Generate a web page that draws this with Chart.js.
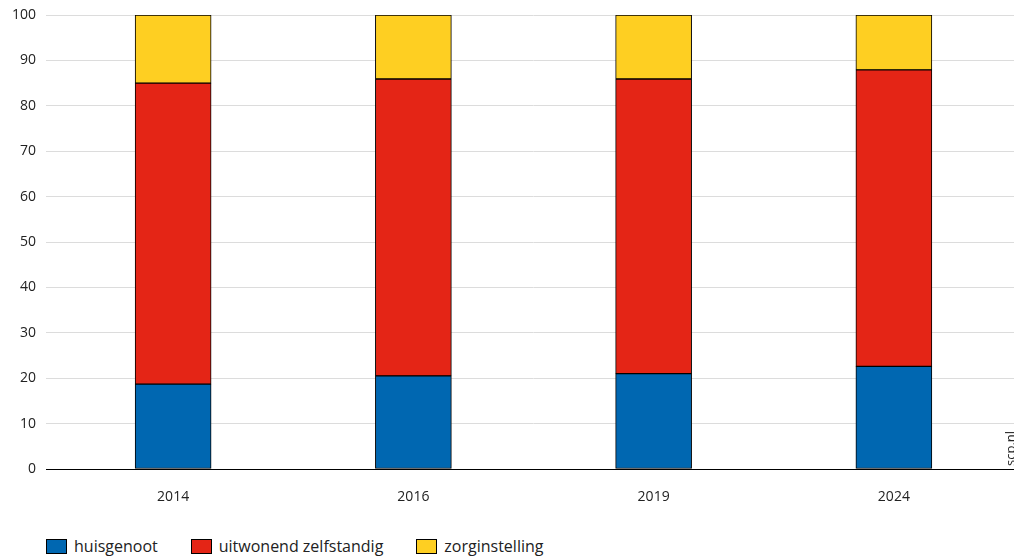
<!DOCTYPE html>
<html>
<head>
<meta charset="utf-8">
<script src="https://cdn.jsdelivr.net/npm/chart.js@4"></script>
<style>
    body { margin: 0; background: #fff; font-family: "Open Sans", sans-serif; }
    #wrap { position: relative; width: 1014px; height: 559px; }
    #box { position: absolute; left: 0; top: 0; width: 1014px; height: 520px; }
    #legend { position: absolute; left: 46px; top: 535px; display: flex; font-size: 16px; color: #222; }
    .item { display: flex; align-items: center; margin-right: 33px; }
    .swatch { width: 19px; height: 13px; border: 1px solid #000; margin-right: 7px; }
</style>
</head>
<body>
<div id="wrap">
    <div id="box"><canvas id="chart"></canvas></div>
    <div id="legend"></div>
</div>
<script>
const years = ['2014', '2016', '2019', '2024'];
const huisgenoot = [18.7, 20.5, 21.0, 22.6];
const uitwonend = [66.3, 65.4, 64.9, 65.3];
const zorg = [15.0, 14.1, 14.1, 12.1];
const yTicks = [0, 10, 20, 30, 40, 50, 60, 70, 80, 90, 100];

const series = [
    { label: 'huisgenoot', data: huisgenoot, color: '#0067B1' },
    { label: 'uitwonend zelfstandig', data: uitwonend, color: '#E42516' },
    { label: 'zorginstelling', data: zorg, color: '#FECF22' }
];

// rotated source note at the bottom right, partly cut off by the edge
const sourceNote = {
    id: 'sourceNote',
    afterDraw(chart) {
        const ctx = chart.ctx;
        ctx.save();
        ctx.translate(1015, 466);
        ctx.rotate(-Math.PI / 2);
        ctx.font = '13px "Open Sans"';
        ctx.fillStyle = '#222';
        ctx.textAlign = 'left';
        ctx.textBaseline = 'alphabetic';
        ctx.fillText('scp.nl', 0, 0);
        ctx.restore();
    }
};

new Chart(document.getElementById('chart'), {
    type: 'bar',
    data: {
        labels: years,
        datasets: series.map(s => ({
            label: s.label,
            data: s.data,
            backgroundColor: s.color,
            borderColor: '#000',
            borderWidth: 1,
            borderSkipped: false,
            barThickness: 76
        }))
    },
    options: {
        responsive: true,
        maintainAspectRatio: false,
        animation: false,
        layout: { padding: 0 },
        plugins: {
            legend: { display: false },
            tooltip: { enabled: false }
        },
        scales: {
            x: {
                stacked: true,
                grid: { display: false, drawTicks: false },
                border: { display: true, color: '#000', width: 1 },
                ticks: { color: '#222', font: { family: 'Open Sans', size: 14 }, padding: 20 },
                afterFit: function(scale) { scale.height = 51; }
            },
            y: {
                stacked: true,
                min: 0,
                max: 100,
                afterBuildTicks: function(scale) { scale.ticks = yTicks.map(v => ({ value: v })); },
                grid: {
                    color: ctx => ctx.tick && ctx.tick.value === 0 ? '#000' : '#dcdcdc',
                    lineWidth: 1,
                    tickLength: 7
                },
                border: { display: false },
                ticks: { color: '#222', font: { family: 'Open Sans', size: 14 }, padding: 10 },
                afterFit: function(scale) {
                    scale.width = 53;
                    scale.paddingTop = 15;
                }
            }
        }
    },
    plugins: [sourceNote]
});

const legend = document.getElementById('legend');
series.forEach(s => {
    const item = document.createElement('div');
    item.className = 'item';
    item.innerHTML = '<span class="swatch" style="background:' + s.color + '"></span><span>' + s.label + '</span>';
    legend.appendChild(item);
});
</script>
</body>
</html>
